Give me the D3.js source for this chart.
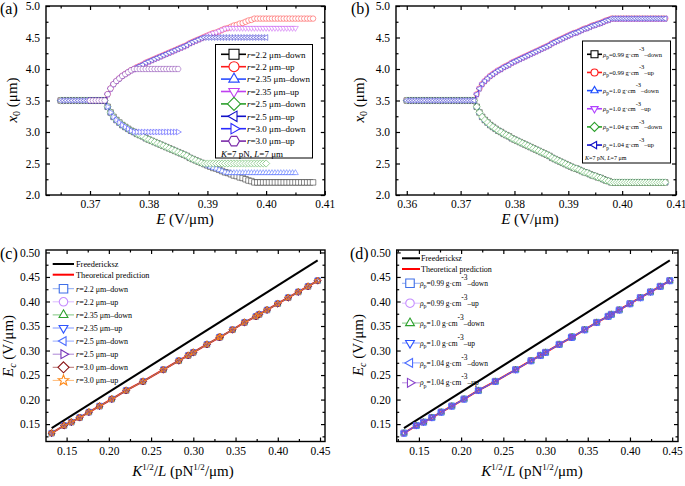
<!DOCTYPE html>
<html><head><meta charset="utf-8">
<script src="https://cdn.jsdelivr.net/npm/d3@7"></script>
<style>body{margin:0;background:#fff} svg{display:block}</style>
</head><body><svg id="c" width="685" height="486"></svg>
<script>
// ---------- DATA ----------
// electric field sweep (V/um): flat part, bifurcating branch, saturated tail
const E_flat = [0.3600,0.3605,0.3610,0.3615,0.3620,0.3625,0.3630,0.3635,0.3640,0.3645,0.3650,0.3655,0.3660,0.3665,0.3670,0.3675,0.3680,0.3685,0.3690,0.3695,0.3700,0.3705,0.3710,0.3715,0.3720,0.3725];
const E_branch = [0.3730,0.3735,0.3740,0.3745,0.3750,0.3755,0.3760,0.3765,0.3770,0.3775,0.3780,0.3785,0.3790,0.3795,0.3800,0.3805,0.3810,0.3815,0.3820,0.3825,0.3830,0.3835,0.3840,0.3845,0.3850,0.3855,0.3860,0.3865,0.3870,0.3875,0.3880,0.3885,0.3890,0.3895,0.3900,0.3905,0.3910,0.3915,0.3920,0.3925,0.3930,0.3935,0.3940,0.3945,0.3950,0.3955,0.3960,0.3965,0.3970,0.3975,0.3980,0.3985];
// displacement of x0 from the mid-plane (3.5 um) along the branch
const d_branch = [0.10,0.19,0.26,0.31,0.35,0.39,0.42,0.45,0.48,0.50,0.53,0.55,0.57,0.60,0.62,0.64,0.66,0.68,0.70,0.72,0.74,0.76,0.78,0.80,0.82,0.84,0.86,0.88,0.91,0.93,0.95,0.97,0.99,1.01,1.03,1.05,1.07,1.08,1.10,1.12,1.14,1.15,1.17,1.19,1.20,1.22,1.23,1.25,1.27,1.28,1.30,1.31];
const E_tail = [0.3990,0.3995,0.4000,0.4005,0.4010,0.4015,0.4020,0.4025,0.4030,0.4035,0.4040,0.4045,0.4050,0.4055,0.4060,0.4065,0.4070,0.4075,0.4080];
const x0_mid = 3.5;

// panel (a)
const a_labels = ["2.2","2.2","2.35","2.35","2.5","2.5","3.0","3.0"];
const a_dirs   = ["down","up","down","up","down","up","down","up"];
const a_sat    = [2.2,4.8,2.35,4.65,2.5,4.5,3.0,4.0];
const a_start  = [0.365,0.365,0.365,0.365,0.365,0.365,0.370,0.370];
const a_end    = [0.408,0.408,0.405,0.405,0.400,0.400,0.385,0.385];
const a_colors = ["#000000","#ff1a1a","#2a4dff","#c040f0","#2ca02c","#1010c8","#2a2aff","#7a2aa8"];
const a_shapes = ["square","circle","up","down","diamond","left","right","hexagon"];

// panel (b)
const b_labels = ["0.99","0.99","1.0","1.0","1.04","1.04"];
const b_dirs   = ["down","up","down","up","down","up"];
const b_sat    = [2.2,4.8,2.2,4.8,2.2,4.8];
const b_start  = [0.360,0.360,0.360,0.360,0.360,0.360];
const b_end    = [0.408,0.408,0.408,0.408,0.408,0.408];
const b_colors = ["#000000","#ff1a1a","#1f4fff","#b040ff","#2ca02c","#1010c8"];
const b_shapes = ["square","circle","up","down","diamond","left"];

// panels (c),(d): K^(1/2)/L vs critical field
const KL = [0.1323,0.1470,0.1556,0.1654,0.1764,0.1890,0.2035,0.2205,0.2405,0.2646,0.2828,0.2940,0.3000,0.3162,0.3307,0.3317,0.3464,0.3606,0.3742,0.3780,0.3873,0.4000,0.4123,0.4243,0.4359,0.4472];
const Ec = [0.1316,0.1471,0.1540,0.1633,0.1744,0.1867,0.2010,0.2186,0.2370,0.2609,0.2792,0.2900,0.2962,0.3125,0.3270,0.3276,0.3424,0.3573,0.3696,0.3737,0.3827,0.3955,0.4078,0.4194,0.4308,0.4425];
const Fr_x = [0.1323,0.4472];
const Fr_y = [0.1418,0.4839];
const c_labels = ["2.2","2.2","2.35","2.35","2.5","2.5","3.0","3.0"];
const c_dirs   = ["down","up","down","up","down","up","down","up"];
const c_colors = ["#3f6fe8","#c58cff","#2ca02c","#2f55ff","#4f6fff","#7433b8","#8b1515","#ff8a1a"];
const c_shapes = ["square","circle","up","down","left","right","diamond","star"];
const d_labels = ["0.99","0.99","1.0","1.0","1.04","1.04"];
const d_dirs   = ["down","up","down","up","down","up"];
const d_colors = ["#3f6fe8","#c58cff","#2ca02c","#2f55ff","#4f6fff","#8a44cc"];
const d_shapes = ["square","circle","up","down","left","right"];

// ---------- HELPERS ----------
const FONT = '"Liberation Serif","Times New Roman",serif';
const svg = d3.select('#c').attr('font-family', FONT);

function poly(R, angles){
  return 'M' + angles.map(a => { const t = a*Math.PI/180; return (R*Math.cos(t)).toFixed(2)+','+(R*Math.sin(t)).toFixed(2); }).join('L') + 'Z';
}
function markerPath(shape, s){
  const r = s/2;
  switch(shape){
    case 'square': return `M${-r},${-r}h${s}v${s}h${-s}Z`;
    case 'circle': return d3.symbol(d3.symbolCircle, Math.PI*r*r)();
    case 'up': return poly(r*1.2, [-90,30,150]);
    case 'down': return poly(r*1.2, [90,210,330]);
    case 'left': return poly(r*1.2, [180,300,60]);
    case 'right': return poly(r*1.2, [0,120,240]);
    case 'diamond': return poly(r*1.3, [-90,0,90,180]);
    case 'hexagon': return poly(r*1.1, [0,60,120,180,240,300]);
    case 'star': {
      const pts = [];
      for (let i=0;i<10;i++){ const R = i%2 ? r*0.55 : r*1.3; const t = (-90+i*36)*Math.PI/180; pts.push((R*Math.cos(t)).toFixed(2)+','+(R*Math.sin(t)).toFixed(2)); }
      return 'M'+pts.join('L')+'Z';
    }
  }
}

function drawAxes(x, y, xMaj, xMin, yMaj, yMin, fx, fy){
  const [xa, xb] = x.range(), [yb, ya] = y.range();
  const g = svg.append('g');
  const mk = (axis, tr, vals, size, fmt, pad) => {
    const a = g.append('g').attr('transform', tr)
      .call(axis.tickValues(vals).tickSizeInner(-size).tickSizeOuter(0).tickPadding(pad).tickFormat(fmt));
    a.select('.domain').remove();
    a.selectAll('line').attr('stroke', '#000').attr('stroke-width', 1.2);
    a.attr('font-family', FONT).attr('font-size', 11.5);
    a.selectAll('text').attr('fill', '#000');
    return a;
  };
  mk(d3.axisBottom(x), `translate(0,${yb})`, xMaj, 4, fx, 5);
  mk(d3.axisBottom(x), `translate(0,${yb})`, xMin, 2.5, () => '', 5);
  mk(d3.axisTop(x), `translate(0,${ya})`, xMaj, 4, () => '', 5);
  mk(d3.axisTop(x), `translate(0,${ya})`, xMin, 2.5, () => '', 5);
  mk(d3.axisLeft(y), `translate(${xa},0)`, yMaj, 4, fy, 6);
  mk(d3.axisLeft(y), `translate(${xa},0)`, yMin, 2.5, () => '', 6);
  mk(d3.axisRight(y), `translate(${xb},0)`, yMaj, 4, () => '', 6);
  mk(d3.axisRight(y), `translate(${xb},0)`, yMin, 2.5, () => '', 6);
  g.append('rect').attr('x', xa).attr('y', ya).attr('width', xb-xa).attr('height', yb-ya)
    .attr('fill', 'none').attr('stroke', '#000').attr('stroke-width', 1.4);
}

function sweep(start, end, sat, dir){
  const pts = [];
  E_flat.forEach(e => { if (e >= start - 1e-9) pts.push([e, x0_mid]); });
  E_branch.forEach((e, i) => {
    if (e > end + 1e-9) return;
    const v = dir === 'up' ? Math.min(x0_mid + d_branch[i], sat) : Math.max(x0_mid - d_branch[i], sat);
    pts.push([e, v]);
  });
  E_tail.forEach(e => { if (e <= end + 1e-9) pts.push([e, sat]); });
  return pts;
}

function drawSeries(x, y, pts, color, shape, size, sw, op, fill){
  const g = svg.append('g');
  g.append('path').attr('d', d3.line().x(d => x(d[0])).y(d => y(d[1]))(pts))
    .attr('fill', 'none').attr('stroke', color).attr('stroke-width', 0.9).attr('stroke-opacity', op);
  g.selectAll('path.m').data(pts).join('path').attr('class', 'm')
    .attr('d', markerPath(shape, size))
    .attr('transform', d => `translate(${x(d[0])},${y(d[1])})`)
    .attr('fill', fill || 'none').attr('stroke', color).attr('stroke-width', sw).attr('stroke-opacity', op);
}

function text(x, y, parts, size, anchor, rotate){
  const t = svg.append('text').attr('x', x).attr('y', y).attr('font-size', size).attr('fill', '#000')
    .attr('text-anchor', anchor || 'start');
  if (rotate) t.attr('transform', `rotate(${rotate},${x},${y})`);
  parts.forEach(p => {
    const s = t.append('tspan').text(p.t);
    if (p.i) s.attr('font-style', 'italic');
    if (p.dy) s.attr('dy', p.dy);
    if (p.fs) s.attr('font-size', p.fs);
  });
  return t;
}

function legendMarker(cx, cy, color, shape, size, x1, x2, lw, lop){
  svg.append('line').attr('x1', x1).attr('x2', x2).attr('y1', cy).attr('y2', cy)
    .attr('stroke', color).attr('stroke-width', lw).attr('stroke-opacity', lop);
  svg.append('path').attr('d', markerPath(shape, size)).attr('transform', `translate(${cx},${cy})`)
    .attr('fill', '#fff').attr('stroke', color).attr('stroke-width', 1.1);
}

const f2 = d3.format('.2f'), f1 = d3.format('.1f');

// ---------- PANEL (a) ----------
{
  const x = d3.scaleLinear([0.3625, 0.41], [46, 324.8]);
  const y = d3.scaleLinear([2, 5], [195, 6]);
  a_labels.forEach((lab, i) => drawSeries(x, y, sweep(a_start[i], a_end[i], a_sat[i], a_dirs[i]), a_colors[i], a_shapes[i], 5.5, 0.7, 0.65, '#fff'));
  drawAxes(x, y, [0.37,0.38,0.39,0.40,0.41], [0.365,0.375,0.385,0.395,0.405], [2,2.5,3,3.5,4,4.5,5], [2.25,2.75,3.25,3.75,4.25,4.75], f2, f1);
  svg.append('rect').attr('x', 215.5).attr('y', 44.5).attr('width', 97).attr('height', 113.5).attr('fill', '#fff').attr('stroke', '#000').attr('stroke-width', 1);
  a_labels.forEach((lab, i) => {
    const cy = 54.3 + i*12.4;
    legendMarker(234, cy, a_colors[i], a_shapes[i], 10, 221, 246, 1.6, 1);
    text(247, cy + 3.2, [{t:'r', i:1}, {t:'=' + lab + ' μm–' + a_dirs[i]}], 9);
  });
  text(221, 156.5, [{t:'K', i:1}, {t:'=7 pN, '}, {t:'L', i:1}, {t:'=7 μm'}], 9);
  text(0, 13.5, [{t:'(a)'}], 16);
  text(17, 100, [{t:'x', i:1}, {t:'0', dy:3, fs:10}, {t:' (μm)', dy:-3}], 15, 'middle', -90);
  text(185, 224, [{t:'E', i:1}, {t:' (V/μm)'}], 15, 'middle');
}

// ---------- PANEL (b) ----------
{
  const x = d3.scaleLinear([0.358, 0.41], [396, 676]);
  const y = d3.scaleLinear([2, 5], [195, 6]);
  b_labels.forEach((lab, i) => drawSeries(x, y, sweep(b_start[i], b_end[i], b_sat[i], b_dirs[i]), b_colors[i], b_shapes[i], 5.5, 0.7, 0.65, '#fff'));
  drawAxes(x, y, [0.36,0.37,0.38,0.39,0.40,0.41], [0.365,0.375,0.385,0.395,0.405], [2,2.5,3,3.5,4,4.5,5], [2.25,2.75,3.25,3.75,4.25,4.75], f2, f1);
  svg.append('rect').attr('x', 582.5).attr('y', 41).attr('width', 88).attr('height', 122).attr('fill', '#fff').attr('stroke', '#000').attr('stroke-width', 1);
  b_labels.forEach((lab, i) => {
    const cy = 54.3 + i*18.15;
    legendMarker(594.5, cy, b_colors[i], b_shapes[i], 7, 587, 602, 1.6, 1);
    text(603, cy + 2.3, [{t:'ρ', i:1}, {t:'p', dy:2.2, fs:5.5}, {t:'=' + lab + ' g·cm', dy:-2.2}, {t:'-3', dy:-5.5}, {t:'–' + b_dirs[i], dy:5.5}], 6.5);
  });
  text(585, 159.5, [{t:'K', i:1}, {t:'=7 pN, '}, {t:'L', i:1}, {t:'=7 μm'}], 6);
  text(351, 13.5, [{t:'(b)'}], 16);
  text(364, 100, [{t:'x', i:1}, {t:'0', dy:3, fs:10}, {t:' (μm)', dy:-3}], 15, 'middle', -90);
  text(530, 224, [{t:'E', i:1}, {t:' (V/μm)'}], 15, 'middle');
}

// ---------- PANEL (c) ----------
{
  const x = d3.scaleLinear([0.1256, 0.4559], [46, 325]);
  const y = d3.scaleLinear([0.1145, 0.505], [441.5, 250]);
  const pts = KL.map((v, i) => [v, Ec[i]]);
  svg.append('path').attr('d', d3.line().x(d => x(d[0])).y(d => y(d[1]))(Fr_x.map((v, i) => [v, Fr_y[i]])))
    .attr('stroke', '#000').attr('stroke-width', 2).attr('fill', 'none');
  svg.append('path').attr('d', d3.line().x(d => x(d[0])).y(d => y(d[1]))(pts))
    .attr('stroke', '#ff0000').attr('stroke-width', 2).attr('fill', 'none');
  c_labels.forEach((lab, i) => drawSeries(x, y, pts, c_colors[i], c_shapes[i], 5.5, 0.9, 0.9));
  drawAxes(x, y, [0.15,0.20,0.25,0.30,0.35,0.40,0.45], [0.175,0.225,0.275,0.325,0.375,0.425], [0.15,0.20,0.25,0.30,0.35,0.40,0.45,0.50], [0.125,0.175,0.225,0.275,0.325,0.375,0.425,0.475], f2, f2);
  svg.append('line').attr('x1', 52.7).attr('x2', 74).attr('y1', 264).attr('y2', 264).attr('stroke', '#000').attr('stroke-width', 2);
  text(76, 267, [{t:'Freedericksz'}], 8.3);
  svg.append('line').attr('x1', 52.7).attr('x2', 74).attr('y1', 274.7).attr('y2', 274.7).attr('stroke', '#ff0000').attr('stroke-width', 2);
  text(76, 277.7, [{t:'Theoretical prediction'}], 8.3);
  c_labels.forEach((lab, i) => {
    const cy = 288.7 + i*13.1;
    legendMarker(63.5, cy, c_colors[i], c_shapes[i], 8.5, 52.7, 74, 1, 0.6);
    text(76, cy + 2.8, [{t:'r', i:1}, {t:'=' + lab + ' μm–' + c_dirs[i]}], 8);
  });
  text(0, 258.5, [{t:'(c)'}], 16);
  text(13, 346, [{t:'E', i:1}, {t:'c', dy:3, fs:10, i:1}, {t:' (V/μm)', dy:-3}], 15, 'middle', -90);
  text(183, 476, [{t:'K', i:1}, {t:'1/2', dy:-6, fs:9}, {t:'/', dy:6}, {t:'L', i:1}, {t:' (pN'}, {t:'1/2', dy:-6, fs:9}, {t:'/μm)', dy:6}], 15, 'middle');
}

// ---------- PANEL (d) ----------
{
  const x = d3.scaleLinear([0.1237, 0.4569], [396.7, 678]);
  const y = d3.scaleLinear([0.1145, 0.505], [441.5, 250]);
  const pts = KL.map((v, i) => [v, Ec[i]]);
  svg.append('path').attr('d', d3.line().x(d => x(d[0])).y(d => y(d[1]))(Fr_x.map((v, i) => [v, Fr_y[i]])))
    .attr('stroke', '#000').attr('stroke-width', 2).attr('fill', 'none');
  svg.append('path').attr('d', d3.line().x(d => x(d[0])).y(d => y(d[1]))(pts))
    .attr('stroke', '#ff0000').attr('stroke-width', 2).attr('fill', 'none');
  d_labels.forEach((lab, i) => drawSeries(x, y, pts, d_colors[i], d_shapes[i], 6, 0.9, 0.9));
  drawAxes(x, y, [0.15,0.20,0.25,0.30,0.35,0.40,0.45], [0.125,0.175,0.225,0.275,0.325,0.375,0.425], [0.15,0.20,0.25,0.30,0.35,0.40,0.45,0.50], [0.125,0.175,0.225,0.275,0.325,0.375,0.425,0.475], f2, f2);
  svg.append('line').attr('x1', 402).attr('x2', 420).attr('y1', 258.3).attr('y2', 258.3).attr('stroke', '#000').attr('stroke-width', 2);
  text(421, 261, [{t:'Freedericksz'}], 8);
  svg.append('line').attr('x1', 402).attr('x2', 420).attr('y1', 269).attr('y2', 269).attr('stroke', '#ff0000').attr('stroke-width', 2);
  text(421, 271.7, [{t:'Theoretical prediction'}], 8);
  d_labels.forEach((lab, i) => {
    const cy = 283.3 + i*19.9;
    legendMarker(410, cy, d_colors[i], d_shapes[i], 8.5, 402, 420, 1, 0.6);
    text(420, cy + 2.6, [{t:'ρ', i:1}, {t:'p', dy:2.5, fs:6}, {t:'=' + lab + ' g·cm', dy:-2.5}, {t:'-3', dy:-6}, {t:'–' + d_dirs[i], dy:6}], 7.5);
  });
  text(350, 258.5, [{t:'(d)'}], 16);
  text(363, 345, [{t:'E', i:1}, {t:'c', dy:3, fs:10, i:1}, {t:' (V/μm)', dy:-3}], 15, 'middle', -90);
  text(532, 476, [{t:'K', i:1}, {t:'1/2', dy:-6, fs:9}, {t:'/', dy:6}, {t:'L', i:1}, {t:' (pN'}, {t:'1/2', dy:-6, fs:9}, {t:'/μm)', dy:6}], 15, 'middle');
}
</script></body></html>
